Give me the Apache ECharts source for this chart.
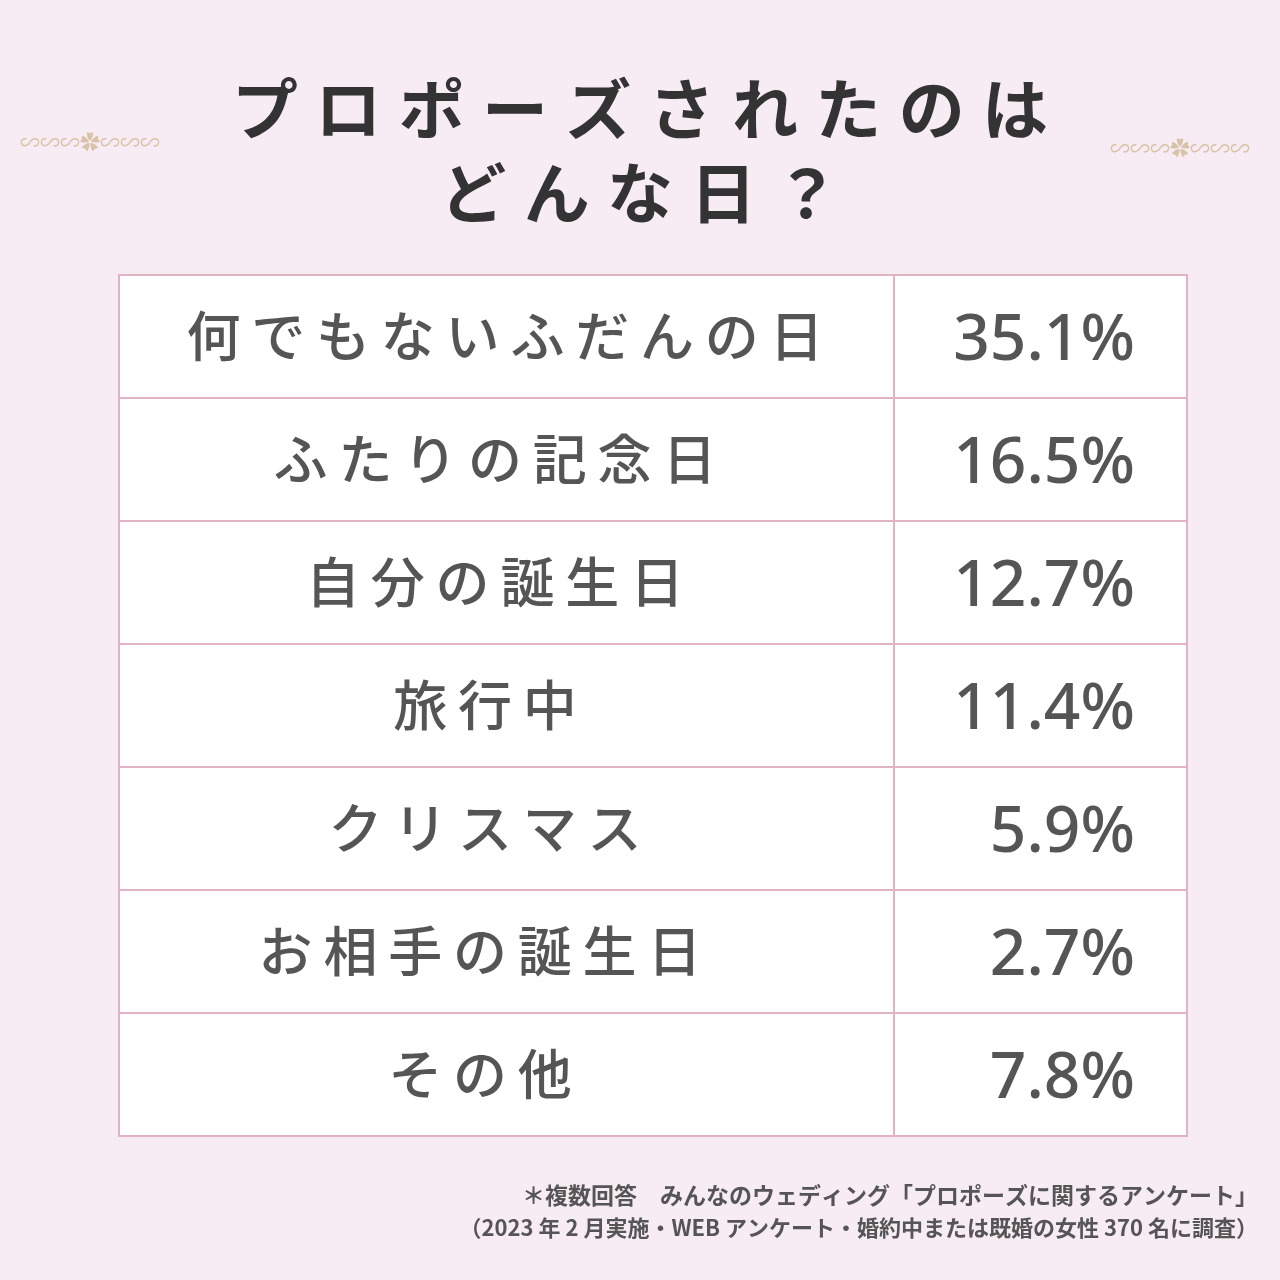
<!DOCTYPE html>
<html lang="ja">
<head>
<meta charset="UTF-8">
<title>プロポーズされたのはどんな日？</title>
<script src="https://cdn.jsdelivr.net/npm/echarts@6/dist/echarts.min.js"></script>
<style>html,body{margin:0;background:#f8ecf4}</style>
</head>
<body>
<div id="app" style="width:1280px;height:1280px"></div>
<script>
var labels = ["何でもないふだんの日", "ふたりの記念日", "自分の誕生日", "旅行中", "クリスマス", "お相手の誕生日", "その他"];
var values = [35.1, 16.5, 12.7, 11.4, 5.9, 2.7, 7.8];
var labelCenters = [505, 495, 495, 485, 485, 480, 480]; // 見た目の中央寄せ位置

var chart = echarts.init(document.getElementById('app'));
var border = '#e2b3c3';
var jp = '"Noto Sans CJK JP", sans-serif';

function spaced(s, sep) { return s.split('').join(sep || '\u2009'); }

chart.setOption({
  backgroundColor: '#f8ecf4',
  graphic: [
    { type: 'text', left: 'center', top: 76, style: { text: spaced('プロポーズされたのは', '\u2009\u200a'), font: 'bold 66px ' + jp, fill: '#333' } },
    { type: 'text', left: 'center', top: 160, style: { text: spaced('どんな日？', '\u2009\u200a'), font: 'bold 66px ' + jp, fill: '#333' } },
    { type: 'text', left: 20, top: 132, style: { text: '∽∽∽✿∽∽∽', font: '20px ' + jp, fill: '#d9c3a8' } },
    { type: 'text', right: 30, top: 138, style: { text: '∽∽∽✿∽∽∽', font: '20px ' + jp, fill: '#d9c3a8' } },
    { type: 'text', right: 22, top: 1184, style: { text: '＊複数回答　みんなのウェディング「プロポーズに関するアンケート」', font: 'bold 23px ' + jp, fill: '#555', align: 'right' } },
    { type: 'text', right: 22, top: 1217, style: { text: '（2023 年 2 月実施・WEB アンケート・婚約中または既婚の女性 370 名に調査）', font: 'bold 22px ' + jp, fill: '#555', align: 'right' } }
  ],
  grid: { left: 119, right: 93, top: 275, bottom: 144 },
  xAxis: { type: 'value', min: 0, max: 1, show: false },
  yAxis: { type: 'category', data: labels, inverse: true, show: false },
  series: [{
    type: 'custom',
    data: values.map(function (v, i) { return [i, v]; }),
    encode: { y: 0 },
    renderItem: function (params, api) {
      var i = api.value(0);
      var cs = params.coordSys;
      var h = api.size([0, 1])[1];
      var cy = api.coord([0, i])[1];
      var top = cy - h / 2;
      var split = cs.x + cs.width * 0.7257;
      return {
        type: 'group',
        children: [
          { type: 'rect', shape: { x: cs.x, y: top, width: split - cs.x, height: h }, style: { fill: '#fff', stroke: border, lineWidth: 2 } },
          { type: 'rect', shape: { x: split, y: top, width: cs.x + cs.width - split, height: h }, style: { fill: '#fff', stroke: border, lineWidth: 2 } },
          { type: 'text', style: { x: labelCenters[i], y: cy, text: spaced(labels[i], '\u2009'), font: '500 54px ' + jp, fill: '#555', align: 'center', verticalAlign: 'middle' } },
          { type: 'text', style: { x: cs.x + cs.width - 52, y: cy + 5, text: api.value(1).toFixed(1) + '%', font: '500 64px "Noto Sans", sans-serif', fill: '#555', align: 'right', verticalAlign: 'middle' } }
        ]
      };
    }
  }]
});
</script>
</body>
</html>
